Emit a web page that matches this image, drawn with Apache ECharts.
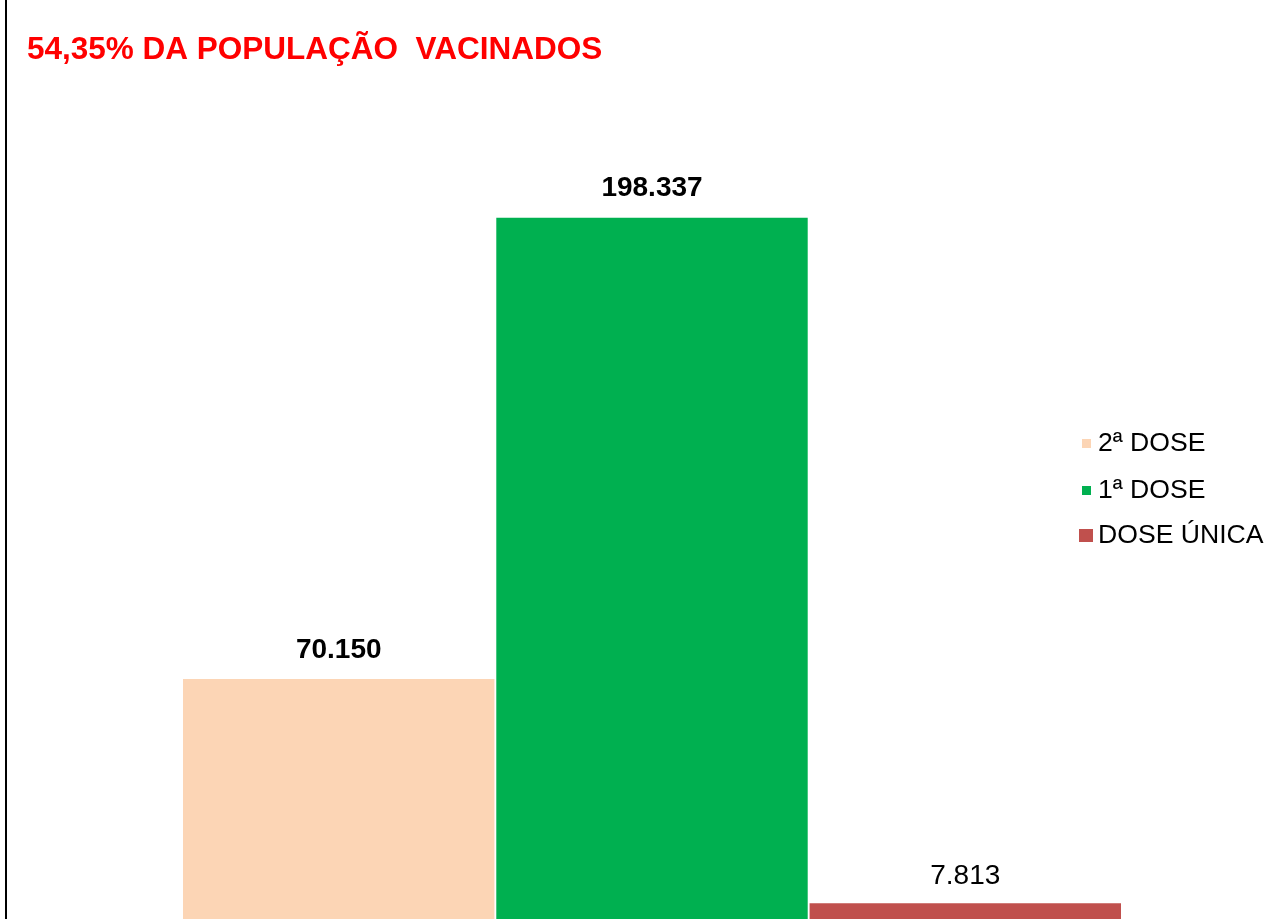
<!DOCTYPE html>
<html>
<head>
<meta charset="utf-8">
<script src="https://cdn.jsdelivr.net/npm/echarts@6/dist/echarts.min.js"></script>
<style>
html,body{margin:0;padding:0;background:#fff;}
#c{width:1288px;height:919px;}
</style>
</head>
<body>
<div id="c"></div>
<script>
const titleText = '54,35% DA POPULAÇÃO  VACINADOS';
const categories = ['VACINADOS'];
const seriesNames = ['2ª DOSE', '1ª DOSE', 'DOSE ÚNICA'];
const seriesValues = [70150, 198337, 7813];
const seriesColors = ['#FCD5B5', '#00B050', '#C0504D'];
const labelBold = [true, true, false];
const labelDistance = [15, 15, 13];

const FONT = "'Liberation Sans', Arial, sans-serif";
const fmt = v => v.toLocaleString('de-DE');

const chart = echarts.init(document.getElementById('c'));
chart.setOption({
  animation: false,
  backgroundColor: '#fff',
  title: {
    text: titleText,
    left: 22,
    top: 29,
    textStyle: { color: '#FF0000', fontWeight: 'bold', fontSize: 31.5, fontFamily: FONT }
  },
  legend: [
    {
      orient: 'vertical',
      left: 1077,
      top: 425,
      itemWidth: 9,
      itemHeight: 9,
      itemGap: 20,
      icon: 'rect',
      textStyle: { fontSize: 26.6, fontFamily: FONT, color: '#000', lineHeight: 26, padding: [0, 0, 0, 2] },
      data: seriesNames.slice(0, 2)
    },
    {
      orient: 'vertical',
      left: 1074,
      top: 517,
      itemWidth: 14,
      itemHeight: 13,
      icon: 'rect',
      itemGap: 20,
      textStyle: { fontSize: 26.6, fontFamily: FONT, color: '#000', lineHeight: 26, padding: [0, 0, 0, 0] },
      data: seriesNames.slice(2)
    }
  ],
  grid: { left: 183, right: 167, top: 211.7, bottom: 0 },
  xAxis: {
    type: 'category',
    data: categories,
    show: false
  },
  yAxis: {
    type: 'value',
    min: 3419,
    max: 200000,
    show: false,
    splitLine: { show: false }
  },
  graphic: [
    { type: 'line', shape: { x1: 6, y1: 0, x2: 6, y2: 919 }, style: { stroke: '#000', lineWidth: 2 } }
  ],
  series: seriesNames.map((name, i) => ({
    name: name,
    type: 'bar',
    data: [seriesValues[i]],
    barCategoryGap: '0%',
    barGap: '0.6%',
    itemStyle: { color: seriesColors[i] },
    label: {
      show: true,
      position: 'top',
      distance: labelDistance[i],
      formatter: p => fmt(p.value),
      fontSize: 28,
      fontWeight: labelBold[i] ? 'bold' : 'normal',
      color: '#000',
      fontFamily: FONT
    }
  }))
});
</script>
</body>
</html>
